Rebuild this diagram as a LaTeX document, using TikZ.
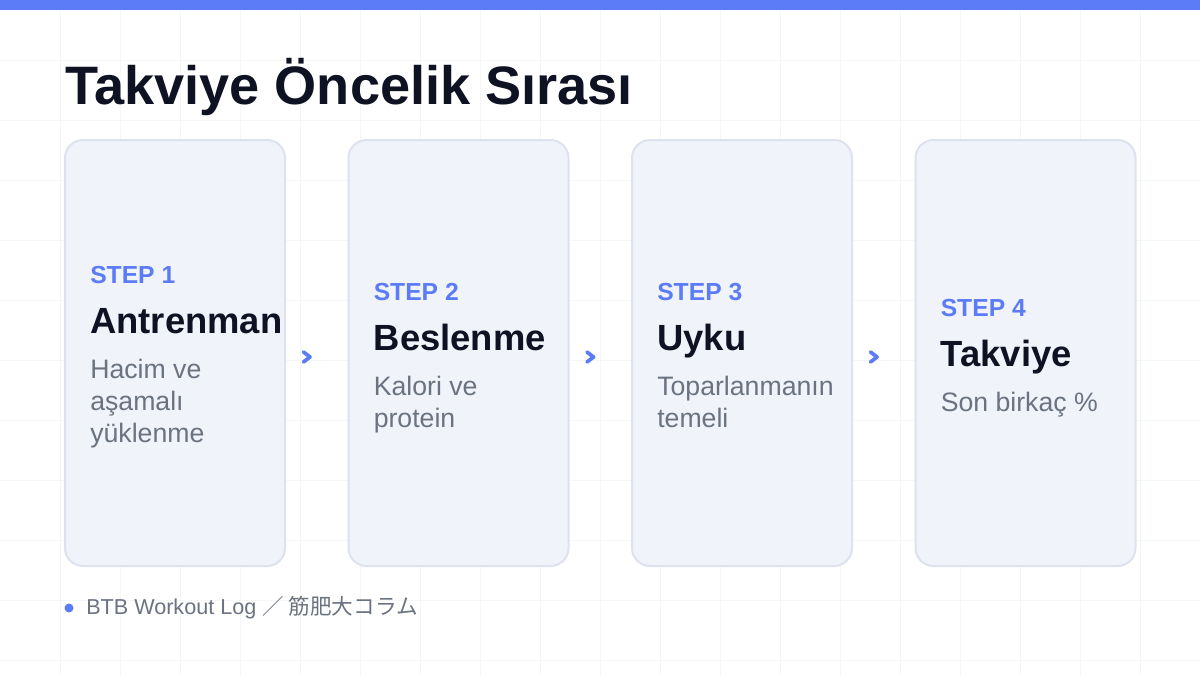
\documentclass[tikz,border=0pt]{standalone}
\usepackage{fontspec}
\setmainfont{Liberation Sans}
\newfontfamily\cjk{Noto Sans CJK JP}
\definecolor{accent}{HTML}{5B7CF6}
\definecolor{ink}{HTML}{0F1222}
\definecolor{muted}{HTML}{6B7280}
\definecolor{cardfill}{HTML}{F1F3FA}
\definecolor{cardline}{HTML}{DDE2EE}
\definecolor{gridc}{HTML}{F5F6F8}
\begin{document}
\begin{tikzpicture}[x=0.75pt,y=-0.75pt,
  card/.style={draw=cardline,line width=1.5pt,fill=cardfill,rounded corners=13.5pt,
    minimum width=165pt,minimum height=319.5pt,inner sep=0pt},
  txt/.style={anchor=base west,inner sep=0pt},
  steplbl/.style={txt,font=\fontsize{18.5}{18.5}\selectfont\bfseries,text=accent},
  ttl/.style={txt,font=\fontsize{27.3}{27.3}\selectfont\bfseries,text=ink},
  desc/.style={txt,font=\fontsize{20}{24}\selectfont,text=muted},
  chevpt/.style={inner sep=0pt,minimum size=0pt},
  chevline/.style={draw=accent,line width=2.8pt,line cap=round,line join=round}]
\useasboundingbox (0,0) rectangle (1200,675);
\fill[white] (0,0) rectangle (1200,675);
\foreach \gx in {60,120,...,1140} \draw[gridc,line width=0.75pt] (\gx,0) -- (\gx,675);
\foreach \gy in {60,120,...,660} \draw[gridc,line width=0.75pt] (0,\gy) -- (1200,\gy);
\fill[accent] (0,0) rectangle (1200,10);
\node[txt,font=\fontsize{40.6}{40.6}\selectfont\bfseries,text=ink] (title) at (65,104) {Takviye Öncelik Sırası};
% cards
\node[card] (c1) at (175,353) {};
\node[card] (c2) at (458.5,353) {};
\node[card] (c3) at (742,353) {};
\node[card] (c4) at (1025.5,353) {};
% card 1
\node[steplbl] (s1) at (90,283) {STEP 1};
\node[ttl] (t1) at (90,333) {Antrenman};
\node[desc] (d1a) at (90,378) {Hacim ve};
\node[desc] (d1b) at (90,410) {aşamalı};
\node[desc] (d1c) at (90,442) {yüklenme};
% card 2
\node[steplbl] (s2) at (373.5,300) {STEP 2};
\node[ttl] (t2) at (373.5,350) {Beslenme};
\node[desc] (d2a) at (373.5,395) {Kalori ve};
\node[desc] (d2b) at (373.5,427) {protein};
% card 3
\node[steplbl] (s3) at (657,300) {STEP 3};
\node[ttl] (t3) at (657,350) {Uyku};
\node[desc] (d3a) at (657,395) {Toparlanmanın};
\node[desc] (d3b) at (657,427) {temeli};
% card 4
\node[steplbl] (s4) at (940.5,316) {STEP 4};
\node[ttl] (t4) at (940.5,366) {Takviye};
\node[desc] (d4a) at (940.5,411) {Son birkaç \%};
% chevrons
\foreach \n/\cx in {a1/307,a2/590.5,a3/874} {
  \node[chevpt] (\n) at (\cx,357) {};
  \draw[chevline] ([shift={(-3.5,-5)}]\n.center) -- ([shift={(3,0)}]\n.center) -- ([shift={(-3.5,5)}]\n.center);
}
% footer
\fill[accent] (69,608) circle[radius=4.5];
\node[txt,font=\fontsize{16.2}{16.2}\selectfont,text=muted] (foot) at (86,614) {BTB Workout Log {\cjk ／ 筋肥大コラム}};
\end{tikzpicture}
\end{document}
